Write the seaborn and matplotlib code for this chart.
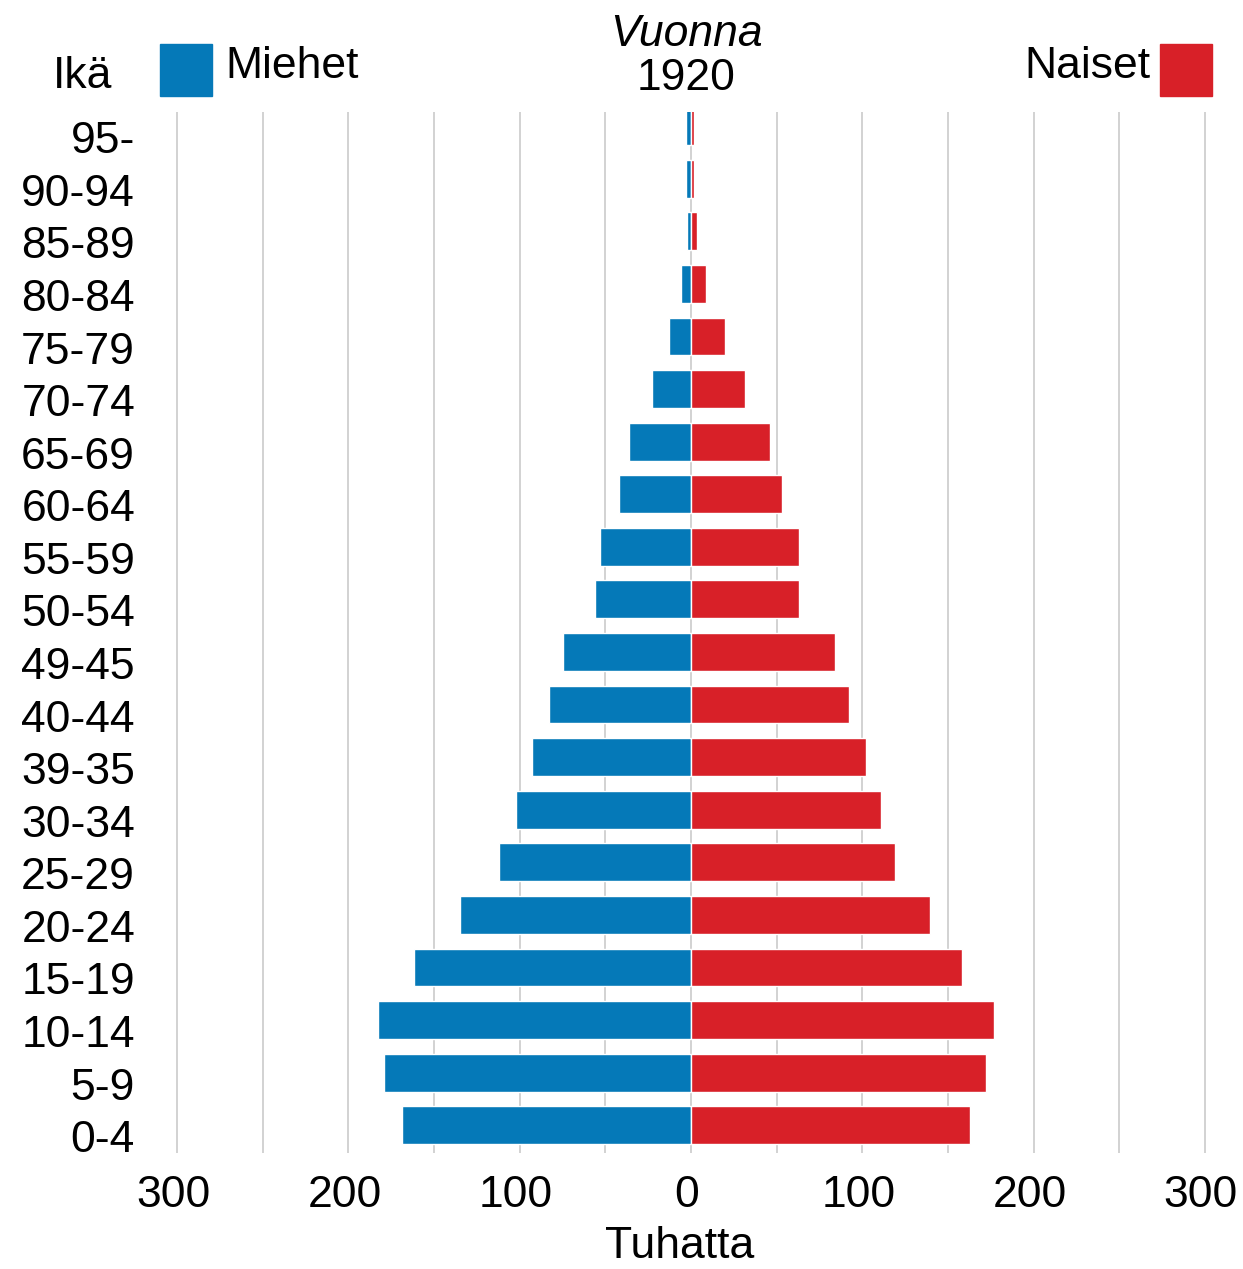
import seaborn as sns
import pandas as pd
import matplotlib.pyplot as plt
import matplotlib.transforms as mtransforms
from matplotlib.patches import Rectangle

# age groups, top to bottom (labels as printed in the original)
ages = ["95-", "90-94", "85-89", "80-84", "75-79", "70-74", "65-69", "60-64",
        "55-59", "50-54", "49-45", "40-44", "39-35", "30-34", "25-29", "20-24",
        "15-19", "10-14", "5-9", "0-4"]
# thousands of people, 1920
men = [3, 3, 2.5, 6, 13, 23, 36, 42, 53, 56, 75, 83, 93, 102, 112, 135, 162, 183, 179, 169]
women = [2, 2, 3.5, 9, 20, 31.5, 46, 53, 63, 63, 84, 92, 102, 111, 119, 139.5, 158, 177, 172, 163]

x_ticks = [-300, -200, -100, 0, 100, 200, 300]
grid_ticks = [-300, -250, -200, -150, -100, -50, 0, 50, 100, 150, 200, 250, 300]

blue = "#0579b8"
red = "#d82028"

df = pd.concat([
    pd.DataFrame({"age": ages, "sex": "Miehet", "value": [-v for v in men]}),
    pd.DataFrame({"age": ages, "sex": "Naiset", "value": women}),
])

sns.set_style("white")
plt.rcParams["font.family"] = ["Liberation Sans", "DejaVu Sans"]
plt.rcParams["text.color"] = "black"
plt.rcParams["xtick.color"] = "black"
plt.rcParams["ytick.color"] = "black"

fs = 32

fig = plt.figure(figsize=(12.43, 12.69), dpi=100)
ax = fig.add_axes([160 / 1243, 0.0914, 1062 / 1243, 0.8203])

sns.barplot(data=df, x="value", y="age", hue="sex", order=ages, dodge=False,
            palette={"Miehet": blue, "Naiset": red}, orient="h", width=0.72,
            saturation=1, legend=False, ax=ax)

ax.set_xlim(-310, 310)
ax.set_ylim(19.53, -0.27)
ax.set_xticks(x_ticks)
ax.set_xticklabels([str(abs(t)) for t in x_ticks])
ax.set_xticks(grid_ticks, minor=True)
ax.grid(axis="x", which="both", color="#d2d2d2", lw=1.4)
ax.set_axisbelow(True)
ax.tick_params(axis="both", which="both", length=0, labelsize=fs, labelcolor="black")
ax.tick_params(axis="x", pad=16)
ax.tick_params(axis="y", pad=18)
ax.set_xlabel("")
ax.set_ylabel("")
for s in ax.spines.values():
    s.set_visible(False)

# age labels sit slightly below bar centres
off = mtransforms.ScaledTranslation(0, -0.11, fig.dpi_scale_trans)
for lab in ax.get_yticklabels():
    lab.set_transform(lab.get_transform() + off)
off_x = mtransforms.ScaledTranslation(-0.04, 0, fig.dpi_scale_trans)
for lab in ax.get_xticklabels():
    lab.set_transform(lab.get_transform() + off_x)

W, H = 1243, 1269
def fx(px):
    return px / W
def fy(py):
    return 1 - py / H

# header
fig.text(fx(112), fy(77), "Ikä", fontsize=fs, ha="right", va="center")
fig.add_artist(Rectangle((fx(160), fy(96)), fx(52), 52 / H, color=blue, transform=fig.transFigure))
fig.text(fx(225), fy(67), "Miehet", fontsize=fs, ha="left", va="center")
fig.text(fx(686), fy(34), "Vuonna", fontsize=fs, style="italic", ha="center", va="center")
fig.text(fx(686), fy(78), "1920", fontsize=fs, ha="center", va="center")
fig.text(fx(1150), fy(67), "Naiset", fontsize=fs, ha="right", va="center")
fig.add_artist(Rectangle((fx(1160), fy(96)), fx(52), 52 / H, color=red, transform=fig.transFigure))

fig.text(fx(680), fy(1246), "Tuhatta", fontsize=fs, ha="center", va="center")

fig.savefig("out.png", dpi=100)
